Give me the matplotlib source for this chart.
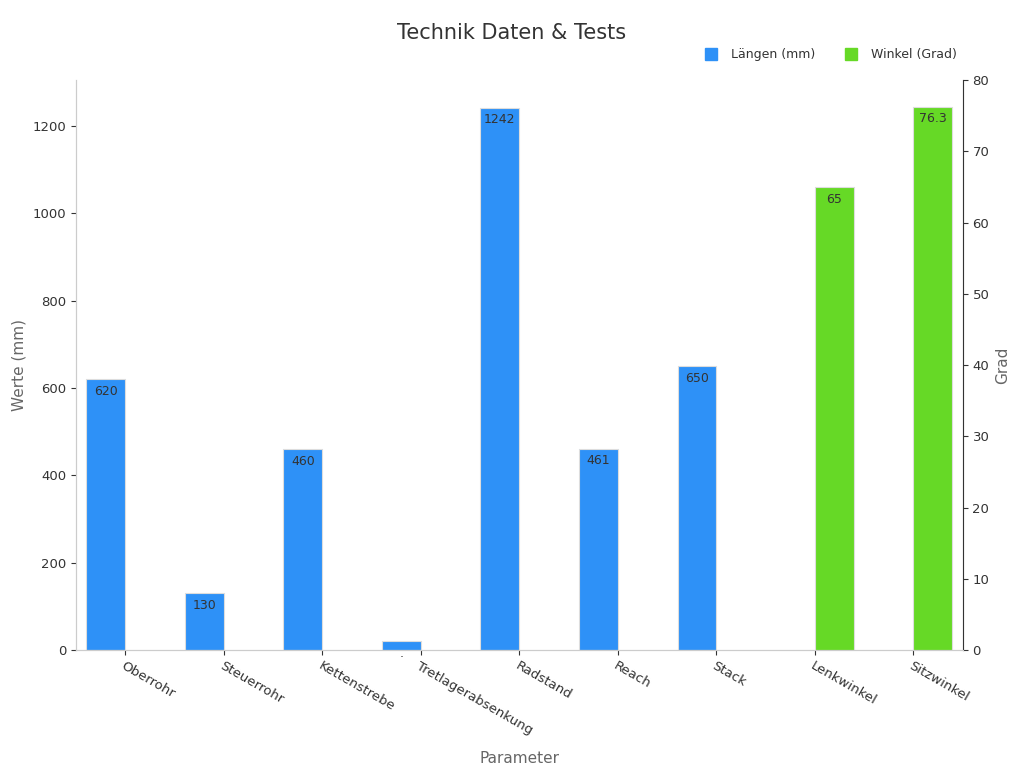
import matplotlib
matplotlib.use("Agg")
import matplotlib.pyplot as plt
import numpy as np
from matplotlib.lines import Line2D

categories = ["Oberrohr", "Steuerrohr", "Kettenstrebe", "Tretlagerabsenkung", "Radstand", "Reach", "Stack", "Lenkwinkel", "Sitzwinkel"]
laengen = [620, 130, 460, 20, 1242, 461, 650, np.nan, np.nan]
winkel = [np.nan]*7 + [65, 76.3]
blue = "#2E91F7"
green = "#66D926"
tc = "#333333"

fig = plt.figure(figsize=(10.24, 7.68), dpi=100)
ax = fig.add_axes([0.0742, 0.1536, 0.866, 0.742])
ax2 = ax.twinx()
x = np.arange(len(categories))
w = 0.395
b1 = ax.bar(x - w/2, laengen, w, color=blue, edgecolor="#dddddd", linewidth=0.8)
b2 = ax2.bar(x + w/2, winkel, w, color=green, edgecolor="#dddddd", linewidth=0.8)
for i, v in enumerate(laengen):
    if not np.isnan(v):
        lab = "." if v < 50 else f"{v:g}"
        ax.annotate(lab, (x[i] - w/2, v), xytext=(0, -4), textcoords="offset points",
                    ha="center", va="top", fontsize=9, color=tc)
for i, v in enumerate(winkel):
    if not np.isnan(v):
        ax2.annotate(f"{v:g}", (x[i] + w/2, v), xytext=(0, -4), textcoords="offset points",
                     ha="center", va="top", fontsize=9, color=tc)
ax.set_xlim(-0.5, len(categories) - 0.5)
ax.set_ylim(0, 1305)
ax2.set_ylim(0, 80)
ax.set_yticks(range(0, 1201, 200))
ax2.set_yticks(range(0, 81, 10))
ax.set_xticks(x)
ax.set_xticklabels(categories, rotation=-30, ha="left", rotation_mode="anchor", fontsize=9.5, color=tc)
for a in (ax, ax2):
    a.tick_params(labelsize=9.5, colors=tc)
    for s in a.spines.values():
        s.set_color("#cccccc")
ax.spines["top"].set_visible(False)
ax2.spines["top"].set_visible(False)
ax2.spines["right"].set_color("#333333")
ax.set_ylabel("Werte (mm)", color="#666666", fontsize=11)
ax2.set_ylabel("Grad", color="#666666", fontsize=11)
ax.set_xlabel("Parameter", color="#666666", fontsize=11, labelpad=10)
fig.text(0.5, 0.957, "Technik Daten & Tests", ha="center", va="center", fontsize=15, color=tc)
handles = [Line2D([], [], marker="s", linestyle="", color=blue, markersize=9),
           Line2D([], [], marker="s", linestyle="", color=green, markersize=9)]
fig.legend(handles, ["Längen (mm)", "Winkel (Grad)"], loc="center right", bbox_to_anchor=(0.945, 0.929),
           ncol=2, frameon=False, fontsize=9, handletextpad=0.6, columnspacing=1.8, labelcolor=tc)
fig.savefig("out.png", dpi=100)
